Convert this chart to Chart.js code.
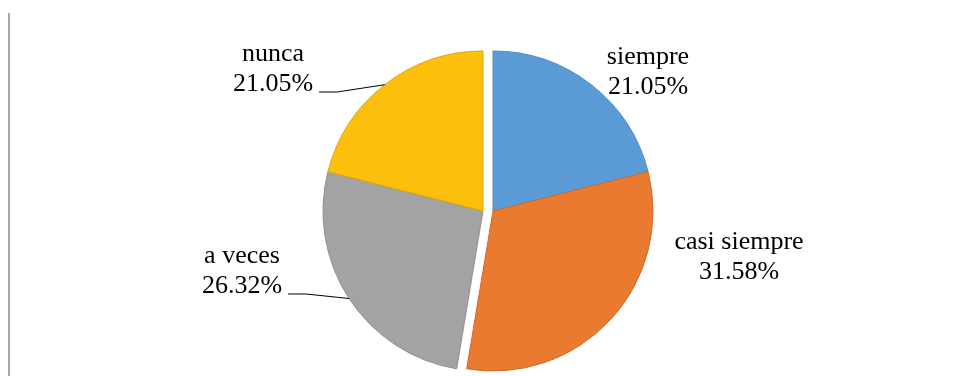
<!DOCTYPE html>
<html>
<head>
<meta charset="utf-8">
<script src="https://cdn.jsdelivr.net/npm/chart.js@4/dist/chart.umd.min.js"></script>
<style>
    html, body { margin: 0; padding: 0; background: #fff; }
    #wrap { position: relative; width: 955px; height: 376px; }
    #kantlijn { position: absolute; left: 8px; top: 13px; bottom: 0; width: 2px; background: #a8a8a8; }
</style>
</head>
<body>
<div id="wrap">
    <div id="kantlijn"></div>
    <canvas id="taartGrafiek" width="955" height="376"></canvas>
</div>
<script>
// categorieën en percentages zoals in de grafiek
const categorieen = ["siempre", "casi siempre", "a veces", "nunca"];
const percentages = [21.05, 31.58, 26.32, 21.05];
const kleuren = ["#5b9bd5", "#e97a30", "#a3a3a3", "#fcbf0c"];
const randKleuren = ["#4f8bc2", "#d06a26", "#8f8f8f", "#dfa700"];

// plaats van de labels t.o.v. het midden van de taart (eerste basislijn)
const labelPlaats = [
    { dx: 160, dy: -147, lijn: false },
    { dx: 251, dy: 38, lijn: false },
    { dx: -246, dy: 52, lijn: true },
    { dx: -215, dy: -150, lijn: true }
];

const lettertype = '26px "Liberation Serif", "Times New Roman", Times, serif';

// rechter helft naar rechts, linker helft naar links (uitgetrokken taart)
const uittrekken = 5;
const splitsPlugin = {
    id: 'splits',
    afterDatasetsUpdate(chart) {
        const meta = chart.getDatasetMeta(0);
        meta.data.forEach(arc => {
            const mid = (arc.startAngle + arc.endAngle) / 2;
            arc.x += Math.cos(mid) >= 0 ? uittrekken : -uittrekken;
        });
    }
};

// tekent de labels en de verbindingslijnen
const labelPlugin = {
    id: 'labels',
    afterDatasetsDraw(chart) {
        const ctx = chart.ctx;
        const meta = chart.getDatasetMeta(0);
        const cx = (chart.chartArea.left + chart.chartArea.right) / 2;
        const cy = (chart.chartArea.top + chart.chartArea.bottom) / 2;
        ctx.save();
        ctx.font = lettertype;
        ctx.fillStyle = '#000';
        ctx.textAlign = 'center';
        ctx.textBaseline = 'alphabetic';
        meta.data.forEach((arc, i) => {
            const p = labelPlaats[i];
            const x = cx + p.dx;
            const y = cy + p.dy;
            const pct = percentages[i].toFixed(2) + '%';
            ctx.fillText(categorieen[i], x, y);
            ctx.fillText(pct, x, y + 30);
            if (p.lijn) {
                const w = ctx.measureText(pct).width;
                const sx = x + w / 2 + 6;
                const sy = y + 31;
                const mid = (arc.startAngle + arc.endAngle) / 2;
                const ex = arc.x + Math.cos(mid) * arc.outerRadius;
                const ey = arc.y + Math.sin(mid) * arc.outerRadius;
                ctx.beginPath();
                ctx.strokeStyle = '#000';
                ctx.lineWidth = 1;
                ctx.moveTo(sx, sy);
                ctx.lineTo(sx + 18, sy);
                ctx.lineTo(ex, ey);
                ctx.stroke();
            }
        });
        ctx.restore();
    }
};

function tekenGrafiek() {
    new Chart(document.getElementById('taartGrafiek').getContext('2d'), {
        type: 'pie',
        data: {
            labels: categorieen,
            datasets: [{
                data: percentages,
                backgroundColor: kleuren,
                borderColor: randKleuren,
                borderWidth: 1
            }]
        },
        options: {
            responsive: false,
            animation: false,
            radius: 160,
            layout: { padding: { left: 21, right: 0, top: 46, bottom: 0 } },
            plugins: {
                legend: { display: false },
                tooltip: { enabled: false }
            }
        },
        plugins: [splitsPlugin, labelPlugin]
    });
}

// eerst het lettertype laden
document.fonts.load('26px "Liberation Serif"').then(tekenGrafiek, tekenGrafiek);
</script>
</body>
</html>
